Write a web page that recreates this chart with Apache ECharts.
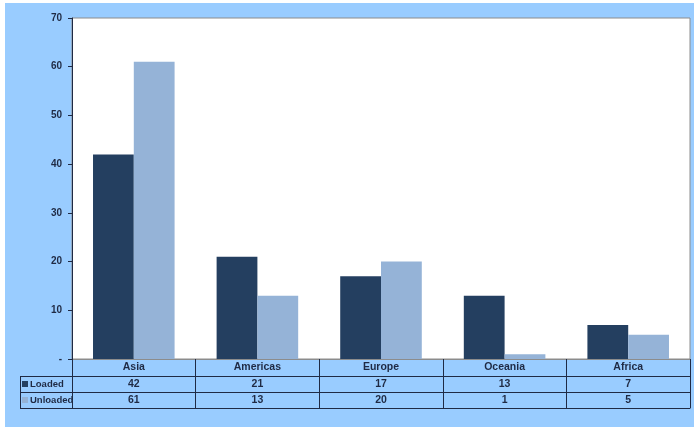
<!DOCTYPE html>
<html>
<head>
<meta charset="utf-8">
<script src="https://cdn.jsdelivr.net/npm/echarts@6/dist/echarts.min.js"></script>
<style>
  body { margin: 0; background: #ffffff; }
  #chart { position: absolute; left: 5px; top: 3px; width: 689px; height: 424px; background: #99ccff; }
</style>
</head>
<body>
<div id="chart"></div>
<script>
// data
const regions = ["Asia", "Americas", "Europe", "Oceania", "Africa"];
const loaded = [42, 21, 17, 13, 7];
const unloaded = [61, 13, 20, 1, 5];
const yTicks = [0, 10, 20, 30, 40, 50, 60, 70];

const navy = "#1f2a44";
const darkBar = "#243f60";
const lightBar = "#95b3d7";
const font = "'Liberation Sans', Arial, sans-serif";

const chart = echarts.init(document.getElementById("chart"), null, { renderer: "canvas" });

// one x axis per table row, stacked under the plot
function rowAxis(offset, values, lineColor, withTicks) {
  return {
    type: "category",
    data: regions,
    position: "bottom",
    offset: offset,
    axisLine: { show: true, lineStyle: { color: lineColor, width: 1 } },
    axisTick: { show: withTicks, interval: 0, length: 49, lineStyle: { color: navy } },
    axisLabel: {
      show: values !== null,
      interval: 0,
      margin: 3,
      color: navy,
      fontFamily: font,
      fontWeight: "bold",
      fontSize: 10.5,
      formatter: (v, i) => (values === null ? "" : values === regions ? v : String(values[i])),
    },
    splitLine: { show: false },
  };
}

const option = {
  animation: false,
  textStyle: { fontFamily: font },
  grid: {
    left: 67,
    right: 4,
    top: 15,
    bottom: 68,
    show: true,
    backgroundColor: "#ffffff",
    borderColor: "#8c8c8c",
    borderWidth: 1,
  },
  legend: {
    orient: "vertical",
    left: 17,
    top: 373,
    padding: 0,
    itemGap: 0,
    itemWidth: 6,
    itemHeight: 6,
    icon: "rect",
    textStyle: { color: navy, fontFamily: font, fontWeight: "bold", fontSize: 9.5, lineHeight: 16, padding: [0, 0, 0, -3] },
    data: ["Loaded", "Unloaded"],
  },
  xAxis: [
    rowAxis(0, regions, "#8c8c8c", true),
    rowAxis(17, loaded, navy, false),
    rowAxis(33, unloaded, navy, false),
    rowAxis(49, null, navy, false),
  ],
  yAxis: {
    type: "value",
    min: yTicks[0],
    max: yTicks[yTicks.length - 1],
    interval: 10,
    axisLine: { show: true, lineStyle: { color: navy } },
    axisTick: { show: true, length: 4, lineStyle: { color: navy } },
    axisLabel: {
      margin: 10,
      color: navy,
      fontFamily: font,
      fontWeight: "bold",
      fontSize: 10,
      formatter: (v) => (v === 0 ? "-" : String(v)),
    },
    splitLine: { show: false },
  },
  graphic: [
    { type: "line", shape: { x1: 15, y1: 373.5, x2: 67, y2: 373.5 }, style: { stroke: navy, lineWidth: 1 } },
    { type: "line", shape: { x1: 15, y1: 389.5, x2: 67, y2: 389.5 }, style: { stroke: navy, lineWidth: 1 } },
    { type: "line", shape: { x1: 15, y1: 405.5, x2: 67, y2: 405.5 }, style: { stroke: navy, lineWidth: 1 } },
    { type: "line", shape: { x1: 15.5, y1: 373, x2: 15.5, y2: 406 }, style: { stroke: navy, lineWidth: 1 } },
  ],
  series: [
    {
      name: "Loaded",
      type: "bar",
      data: loaded,
      barGap: "0%",
      barCategoryGap: "34%",
      itemStyle: { color: darkBar },
    },
    {
      name: "Unloaded",
      type: "bar",
      data: unloaded,
      barGap: "0%",
      barCategoryGap: "34%",
      itemStyle: { color: lightBar },
    },
  ],
};

chart.setOption(option);
</script>
</body>
</html>
